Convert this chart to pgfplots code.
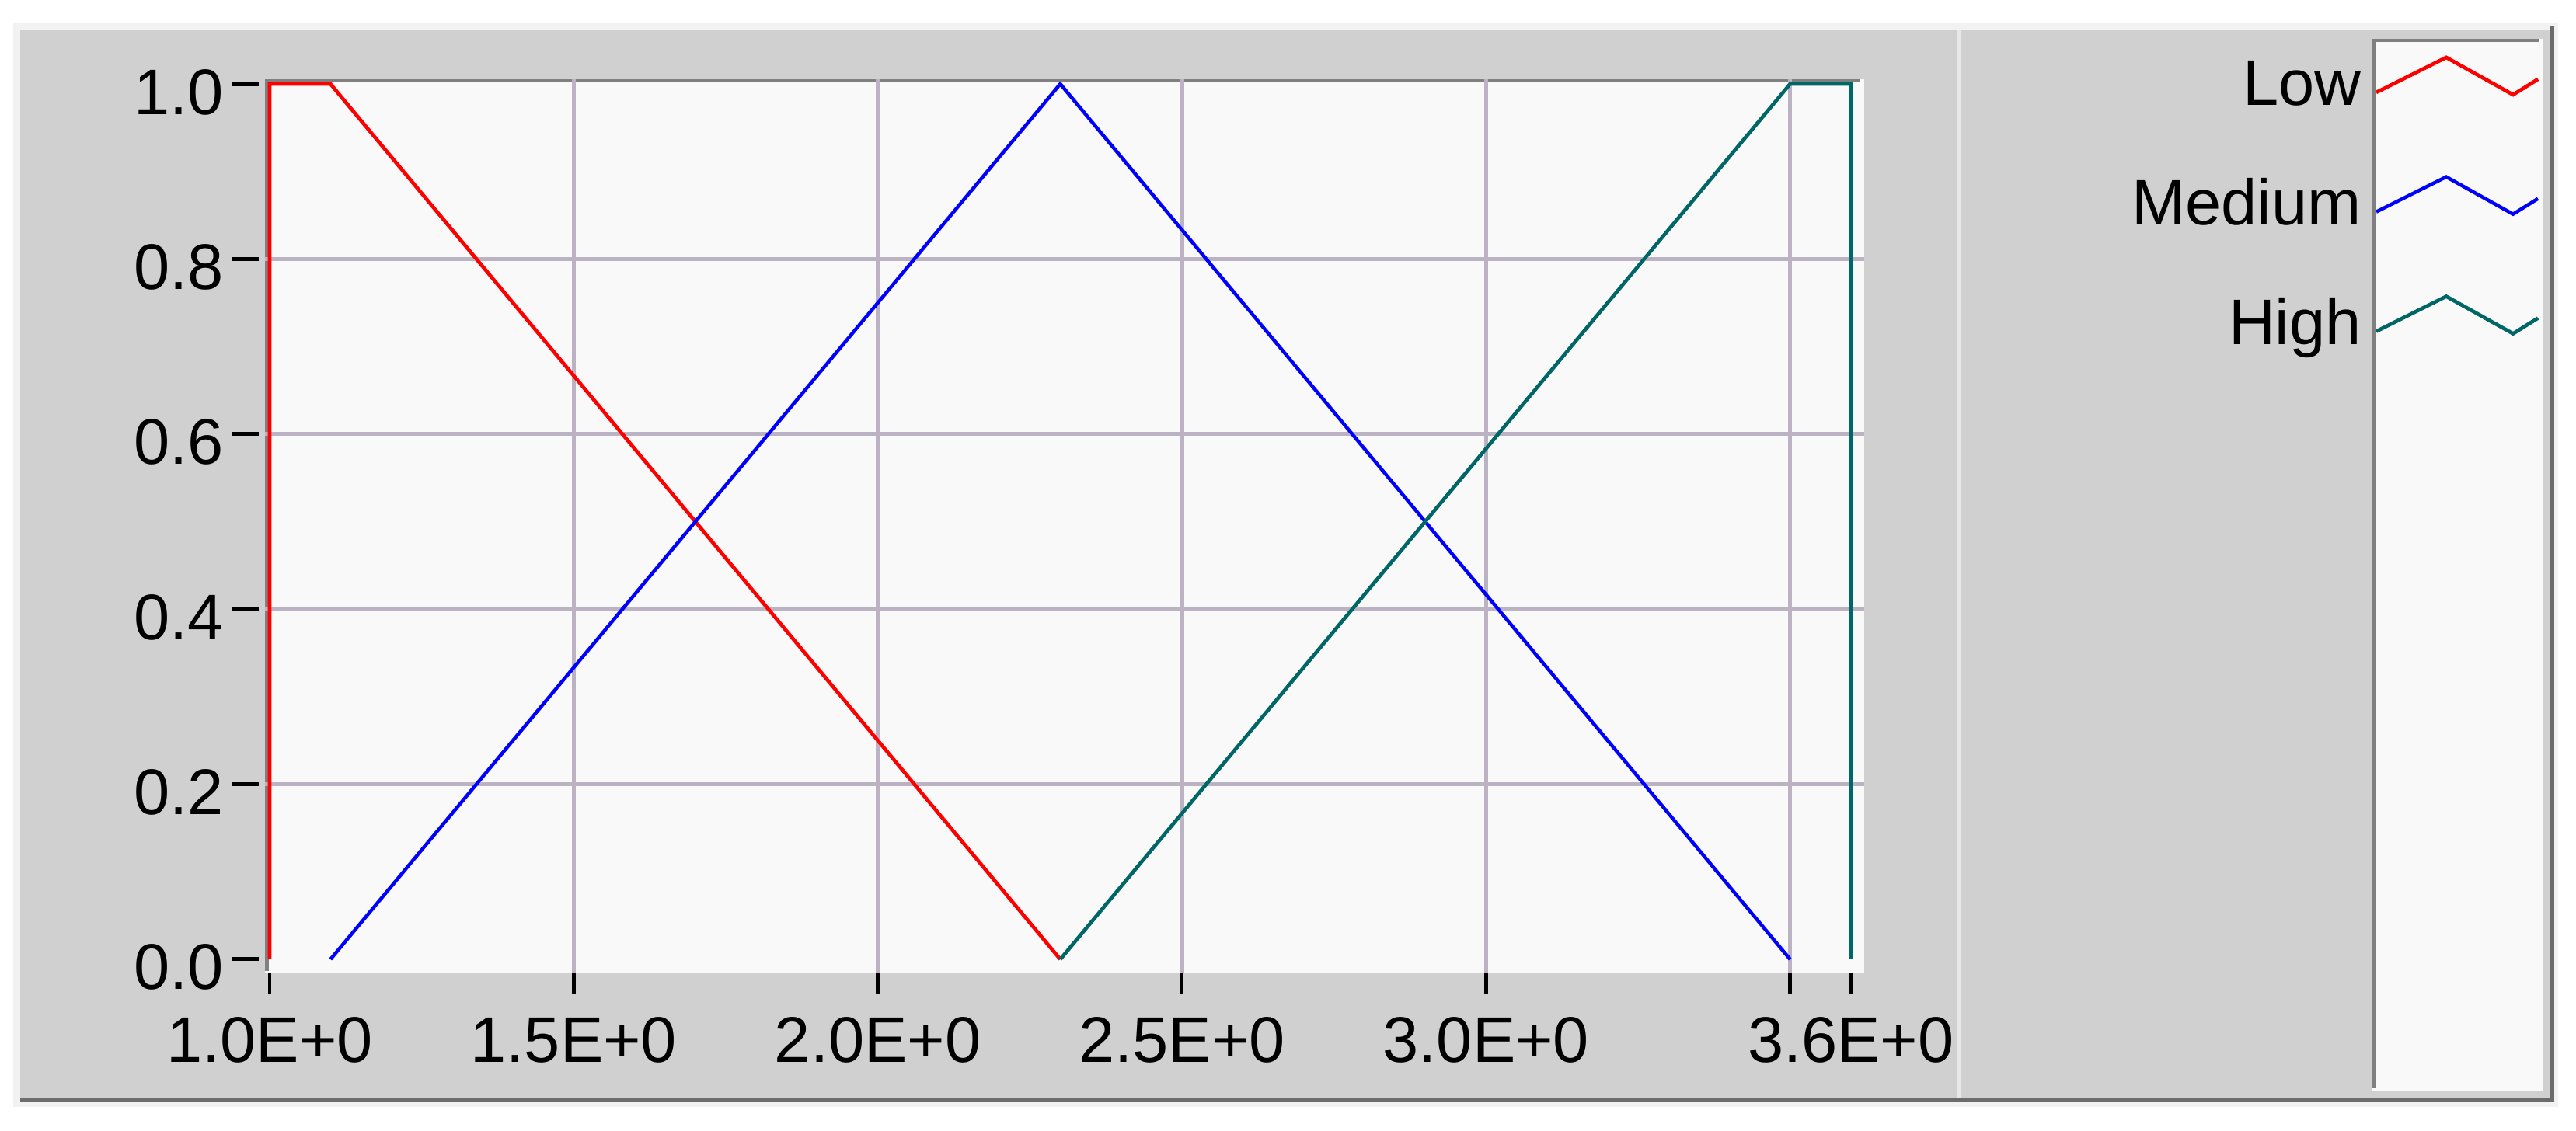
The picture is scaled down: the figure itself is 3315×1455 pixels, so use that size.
\documentclass[border=0pt]{standalone}
\usepackage{pgfplots}
\pgfplotsset{compat=1.18}
\usepackage{fontspec}
\setmainfont{Liberation Sans}
\definecolor{panel}{RGB}{208,208,208}
\definecolor{plotbg}{RGB}{249,249,249}
\definecolor{bord}{RGB}{128,128,128}
\definecolor{darkb}{RGB}{108,108,108}
\definecolor{gridc}{RGB}{187,178,196}
\definecolor{tealc}{RGB}{0,102,102}
\definecolor{outerc}{RGB}{242,242,242}
\definecolor{divc}{RGB}{232,232,232}
\newcommand\tickfont{\fontsize{8.3pt}{10pt}\selectfont}
\newcommand\legfont{\fontsize{8.3pt}{10pt}\selectfont}
\newcommand\yl[1]{#1\hspace{1.1pt}\rule[3.65pt]{3.4pt}{0.5pt}}
\begin{document}
\begin{tikzpicture}
\begin{scope}[x=0.1pt,y=-0.1pt]
\fill[white] (0,0) rectangle (3315,1455);
\fill[outerc] (17,29) rectangle (3292,1425);
\fill[panel] (26,38) rectangle (3282,1414);
\fill[darkb] (3282,34) rectangle (3287,1419);
\fill[darkb] (26,1414) rectangle (3287,1419);
\fill[divc] (2518,38) rectangle (2523,1414);
\fill[plotbg] (3053,50) rectangle (3272,1405);
\fill[bord] (3053,50) rectangle (3058,1400);
\fill[bord] (3053,50) rectangle (3268,54);
\fill[plotbg] (341,102) rectangle (2399,1252);
\fill[bord] (341,102) rectangle (346,1250);
\fill[bord] (341,102) rectangle (2394,106);
\end{scope}
\begin{axis}[
  at={(34.1pt,-125.2pt)}, anchor=south west,
  width=205.8pt, height=115pt, scale only axis,
  xmin=0.9923, xmax=3.6217, ymin=-0.0151, ymax=1.0053,
  axis line style={draw=none},
  tick align=outside, major tick length=2.8pt,
  xtick={1,1.5,2,2.5,3,3.5,3.6},
  xticklabels={1.0E+0,1.5E+0,2.0E+0,2.5E+0,3.0E+0,{},3.6E+0},
  xtick pos=bottom, ytick pos=left,
  xtick style={black, line width=0.45pt},
  ytick style={draw=none},
  ytick={0,0.2,0.4,0.6,0.8,1},
  yticklabels={\yl{0.0},\yl{0.2},\yl{0.4},\yl{0.6},\yl{0.8},\yl{1.0}},
  xticklabel style={font=\tickfont, anchor=base, inner sep=0pt, yshift=-8.8pt},
  yticklabel style={font=\tickfont, anchor=base east, inner sep=0pt, yshift=-3.9pt, xshift=2.2pt},
  extra x ticks={1.5,2,2.5,3,3.5}, extra x tick labels={},
  extra x tick style={grid=major, major tick length=0pt},
  extra y ticks={0.2,0.4,0.6,0.8}, extra y tick labels={},
  extra y tick style={grid=major, major tick length=0pt},
  grid style={gridc, line width=0.5pt},
  legend plot pos=right, legend cell align=right,
  legend style={at={(1.4225,1.0265)}, anchor=north east, draw=none, fill=none,
    inner sep=0pt, outer sep=0pt, row sep=8.95pt, column sep=1.7pt,
    nodes={inner sep=0pt, text height=6pt, text depth=0pt, font=\legfont}},
  legend image code/.code={\draw[#1] (0pt,-1.3pt) -- (9pt,3.2pt) -- (17.6pt,-1.6pt) -- (20.8pt,0.4pt);},
]
\addplot[red, line width=0.47pt] coordinates {(1.0,0) (1.0,1) (1.1,1) (2.3,0)};
\addlegendentry{Low}
\addplot[blue, line width=0.45pt] coordinates {(1.1,0) (2.3,1) (3.5,0)};
\addlegendentry{Medium}
\addplot[tealc, line width=0.47pt] coordinates {(2.3,0) (3.5,1) (3.6,1) (3.6,0)};
\addlegendentry{High}
\end{axis}
\end{tikzpicture}
\end{document}
